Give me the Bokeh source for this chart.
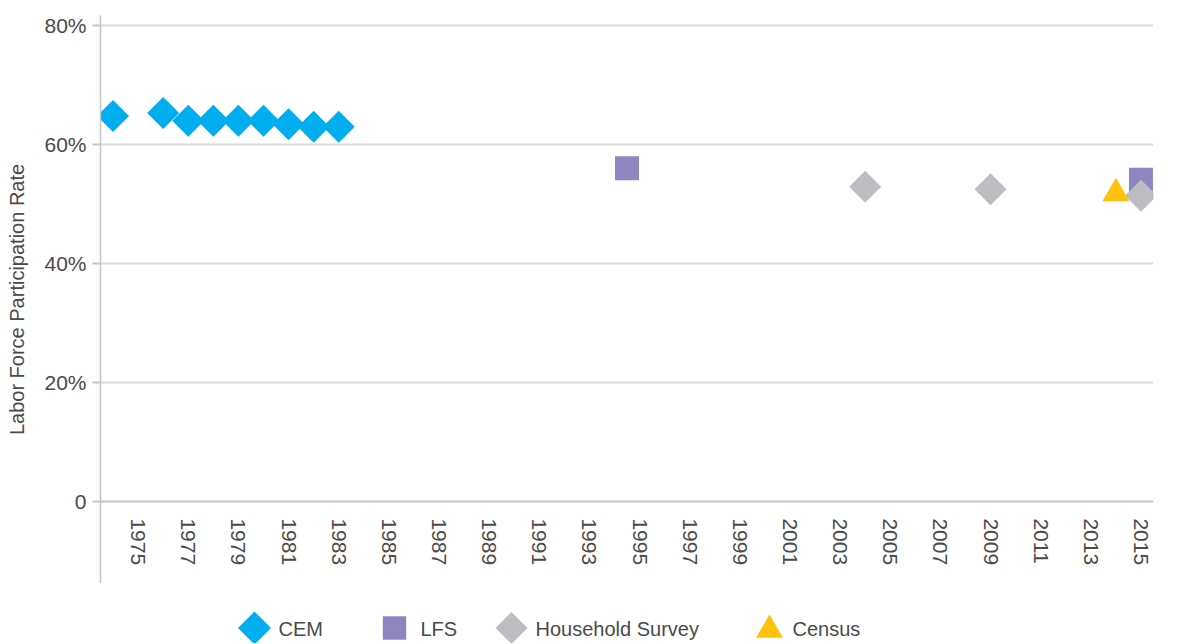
from math import pi
from bokeh.plotting import figure
from bokeh.models import FixedTicker, Range1d
from bokeh.layouts import column
from bokeh.core.properties import value
from bokeh.embed import file_html
from bokeh.resources import INLINE

# ---- data ----
cem_years = [1974, 1976, 1977, 1978, 1979, 1980, 1981, 1982, 1983]
cem_rate = [64.8, 65.3, 64.0, 64.0, 64.0, 64.0, 63.4, 63.0, 63.0]
lfs_years = [1994.5, 2015]
lfs_rate = [56.0, 54.1]
hh_years = [2004, 2009, 2015]
hh_rate = [52.9, 52.5, 51.4]
census_years = [2014]
census_rate = [51.8]
x_tick_years = list(range(1975, 2016, 2))
y_ticks = [0, 20, 40, 60, 80]
y_tick_labels = ["0", "20%", "40%", "60%", "80%"]
series_names = ["CEM", "LFS", "Household Survey", "Census"]
y_title = "Labor Force Participation Rate"

FONT = "Liberation Sans"
TXT = "#4a4a4a"
AX = "#c4c4c4"
C_CEM, C_LFS, C_HH, C_CEN = "#00aeef", "#8f86bf", "#bcbdc0", "#ffc20e"

p = figure(width=1183, height=583, output_backend="svg", toolbar_location=None,
           x_range=Range1d(1973.5, 2015.5), y_range=Range1d(-13.8, 81.7),
           min_border_left=100, min_border_top=15, min_border_right=30,
           min_border_bottom=0)
p.outline_line_color = None

# y axis
ya = p.yaxis[0]
ya.ticker = FixedTicker(ticks=y_ticks)
ya.major_label_overrides = {t: l for t, l in zip(y_ticks, y_tick_labels)}
ya.axis_line_color = AX
ya.axis_line_width = 1.5
ya.major_tick_line_color = AX
ya.major_tick_line_width = 2
ya.major_tick_out = 8
ya.major_tick_in = 0
ya.minor_tick_line_color = None
ya.major_label_standoff = 6
ya.major_label_text_font = FONT
ya.major_label_text_font_size = "21px"
ya.major_label_text_color = TXT
ya.axis_label = y_title
ya.axis_label_text_font = FONT
ya.axis_label_text_font_size = "20px"
ya.axis_label_text_font_style = "normal"
ya.axis_label_text_color = TXT
ya.axis_label_standoff = 13

# x axis drawn at y = 0
xa = p.xaxis[0]
xa.ticker = FixedTicker(ticks=x_tick_years)
xa.fixed_location = 0
xa.axis_line_color = AX
xa.axis_line_width = 2
xa.major_tick_line_color = None
xa.minor_tick_line_color = None
xa.major_label_orientation = "vertical"
xa.major_label_standoff = 11
xa.major_label_text_font = FONT
xa.major_label_text_font_size = "21px"
xa.major_label_text_color = TXT

p.xgrid.grid_line_color = None
p.ygrid.ticker = FixedTicker(ticks=[20, 40, 60, 80])
p.ygrid.grid_line_color = "#dadada"
p.ygrid.grid_line_width = 2

# markers
p.scatter(cem_years, cem_rate, marker="square", size=22.6, angle=pi / 4,
          fill_color=C_CEM, line_color=None)
p.scatter(lfs_years, lfs_rate, marker="square", size=24,
          fill_color=C_LFS, line_color=None)
p.scatter(hh_years, hh_rate, marker="square", size=22.6, angle=pi / 4,
          fill_color=C_HH, line_color=None)
p.scatter(census_years, census_rate, marker="triangle", size=27,
          fill_color=C_CEN, line_color=None)

# legend strip below the chart (its frame is aligned with the chart's frame,
# so its ranges are expressed in page pixels)
leg = figure(width=1183, height=60, output_backend="svg", toolbar_location=None,
             x_range=Range1d(100, 1153), y_range=Range1d(643, 583),
             min_border=0, x_axis_location=None, y_axis_location=None)
leg.outline_line_color = None
leg.grid.visible = False
leg_marker_x = [254, 394, 511, 769]
leg_marker_y = [627.5, 627.5, 627.5, 629.5]
leg_text_x = [278, 420, 535, 792]
leg_markers = ["square", "square", "square", "triangle"]
leg_angles = [pi / 4, 0, pi / 4, 0]
leg_sizes = [23.3, 23.4, 22.6, 27]
leg_colors = [C_CEM, C_LFS, C_HH, C_CEN]
leg.scatter(x=leg_marker_x, y=leg_marker_y, marker=leg_markers, angle=leg_angles,
            size=leg_sizes, fill_color=leg_colors, line_color=None)
leg.text(x=leg_text_x, y=[628] * 4, text=series_names, text_baseline="middle",
         text_align="left", text_font=value(FONT), text_font_size="20px",
         text_color=TXT)

layout = column(p, leg, spacing=0)
open("out.html", "w").write(file_html(layout, INLINE))
